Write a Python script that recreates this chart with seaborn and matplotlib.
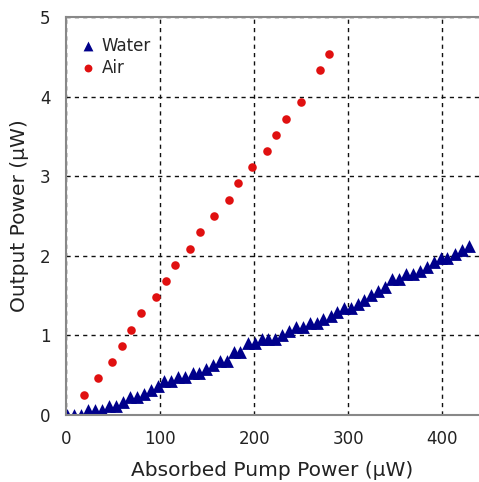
import matplotlib
matplotlib.use("Agg")
import matplotlib.pyplot as plt
import seaborn as sns
import pandas as pd

water_x = [1.4, 8.5, 15.6, 23.7, 30.8, 37.9, 46.0, 53.1, 60.3, 68.0, 75.1, 82.9, 90.0, 97.4,
           104.5, 111.6, 119.3, 126.5, 134.6, 141.7, 148.8, 156.5, 163.7, 170.8, 178.5, 184.9,
           193.7, 200.9, 208.0, 215.0, 222.1, 229.2, 237.3, 244.4, 251.5, 259.3, 266.4, 273.4,
           281.3, 288.3, 295.4, 302.6, 310.0, 317.0, 324.4, 331.9, 339.3, 346.4, 353.9, 361.3,
           368.8, 376.2, 383.6, 390.8, 398.2, 405.2, 413.1, 420.5, 427.9]
water_y = [0.0, 0.0, 0.0, 0.06, 0.06, 0.06, 0.11, 0.11, 0.16, 0.22, 0.22, 0.26, 0.32, 0.37,
           0.43, 0.43, 0.48, 0.48, 0.53, 0.53, 0.58, 0.63, 0.68, 0.68, 0.79, 0.79,
           0.90, 0.90, 0.95, 0.95, 0.95, 1.00, 1.05, 1.10, 1.10, 1.15, 1.15, 1.20,
           1.25, 1.30, 1.35, 1.35, 1.40, 1.45, 1.51, 1.56, 1.61, 1.71, 1.71, 1.77,
           1.77, 1.81, 1.86, 1.92, 1.97, 1.97, 2.02, 2.07, 2.12]
air_x = [18.8, 34.0, 49.2, 59.5, 69.4, 79.4, 95.6, 106.0, 116.2, 131.8, 142.1, 157.0,
         172.9, 182.8, 198.0, 213.3, 223.5, 233.8, 249.4, 269.6, 279.8]
air_y = [0.25, 0.46, 0.66, 0.87, 1.07, 1.28, 1.48, 1.68, 1.89, 2.09, 2.30, 2.50,
         2.70, 2.91, 3.11, 3.32, 3.52, 3.72, 3.93, 4.33, 4.54]

x_ticks = [0, 100, 200, 300, 400]
y_ticks = [0, 1, 2, 3, 4, 5]
x_label = "Absorbed Pump Power (\u03bcW)"
y_label = "Output Power (\u03bcW)"

water = pd.DataFrame({"x": water_x, "y": water_y})
air = pd.DataFrame({"x": air_x, "y": air_y})

sns.set_style("white")
plt.rcParams['font.family'] = ['DejaVu Sans']

fig = plt.figure(figsize=(4.79, 4.82), dpi=100)
ax = fig.add_axes([66/479, 67/482, 413/479, 398/482])

sns.scatterplot(data=water, x="x", y="y", marker="^", color="#00008b", s=85,
                linewidth=0, ax=ax, label="Water")
sns.scatterplot(data=air, x="x", y="y", marker="o", color="#e01010", s=38,
                linewidth=0, ax=ax, label="Air")

ax.set_xlim(0, 439)
ax.set_ylim(0, 5)
ax.set_xticks(x_ticks)
ax.set_yticks(y_ticks)
ax.grid(True, color="#111111", linestyle=(0, (3, 3)), linewidth=1.0)
ax.set_axisbelow(True)
for side in ["left", "bottom", "top"]:
    ax.spines[side].set_color("#888888")
    ax.spines[side].set_linewidth(1.5)
ax.spines["right"].set_visible(False)
ax.tick_params(axis="both", labelsize=12, length=3, color="#888888", pad=8, labelcolor="#222222")
ax.set_xlabel(x_label, fontsize=14.5, color="#222222", labelpad=9)
ax.set_ylabel(y_label, fontsize=14.5, color="#222222", labelpad=8)

leg = ax.legend(loc="upper left", frameon=False, fontsize=12, handletextpad=-0.2,
                borderaxespad=0.3, labelspacing=0.25,
                bbox_to_anchor=(-0.015, 0.98))
hs = leg.legend_handles
hs[0].set_sizes([50])
hs[1].set_sizes([32])

fig.savefig("out.png", dpi=100)
